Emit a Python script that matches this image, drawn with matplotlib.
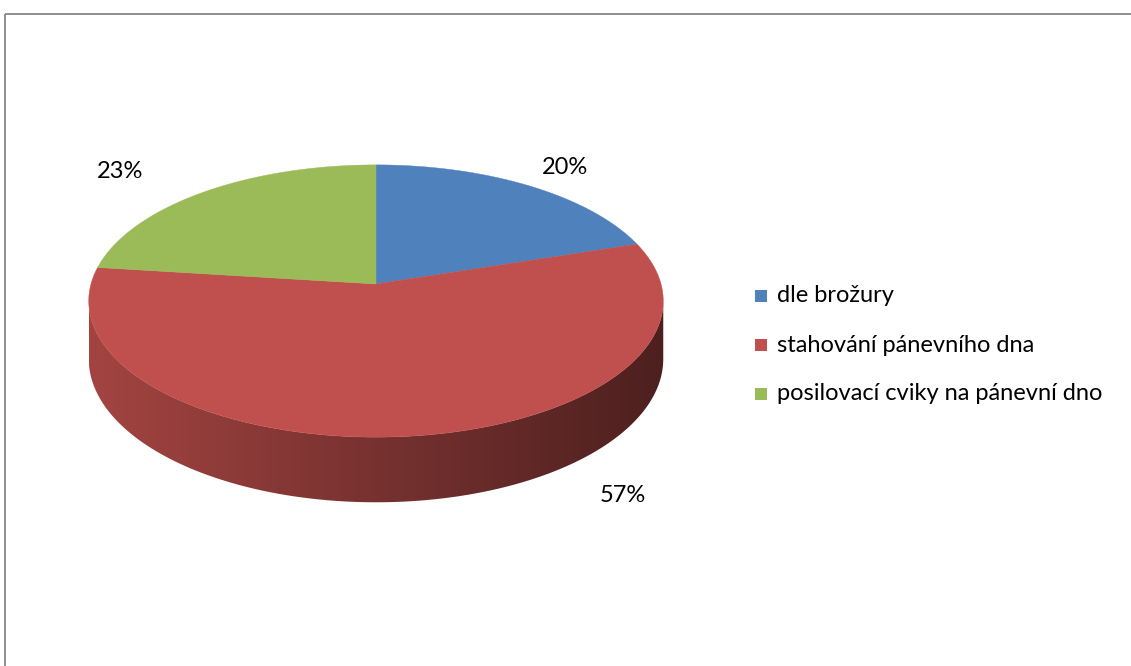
import matplotlib.pyplot as plt
import numpy as np
from matplotlib.patches import Polygon, Rectangle
from matplotlib.colors import LinearSegmentedColormap, to_rgb

kategorie = ["dle brožury", "stahování pánevního dna", "posilovací cviky na pánevní dno"]
podily = [20, 57, 23]
barvy = ["#4F81BD", "#C0504D", "#9BBB59"]

plt.rcParams["font.family"] = ["Lato", "DejaVu Sans"]

W, H = 1131, 666
fig = plt.figure(figsize=(W / 100, H / 100), dpi=100)
ax = fig.add_axes([0, 0, 1, 1])

# geometrie nakloneneho disku v pixelech
cx, cy = 376, 284
R, A = 285, 134     # vodorovny a svisly polomer
c = 0.125           # sila perspektivy
hloubka = 57        # vyska boku


def proj(t, dz=0.0):
    s = 1 + c * np.sin(t)
    return cx + R * np.cos(t) / s, cy - A * np.sin(t) / s + dz / s


# vysece zacinaji nahore a jdou po smeru hodinovych rucicek
frac = np.array(podily) / sum(podily)
hrany = np.pi / 2 - 2 * np.pi * np.concatenate([[0], np.cumsum(frac)])

# viditelna cast boku (predni strana)
t_a = -np.pi + np.arcsin(c)
t_b = -np.arcsin(c)

for i, barva in enumerate(barvy):
    hi, lo = hrany[i], hrany[i + 1]
    for k in (-1, 0, 1):
        t1 = max(lo + 2 * np.pi * k, t_a)
        t2 = min(hi + 2 * np.pi * k, t_b)
        if t2 <= t1:
            continue
        t = np.linspace(t1, t2, 200)
        xh, yh = proj(t)
        xd, yd = proj(t[::-1], hloubka)
        bok = Polygon(np.column_stack([np.r_[xh, xd], np.r_[yh, yd]]),
                      closed=True, facecolor="none", edgecolor="none")
        ax.add_patch(bok)
        rgb = np.array(to_rgb(barva))
        cmap = LinearSegmentedColormap.from_list(
            "bok", [rgb * 0.85, rgb * 0.62, rgb * 0.4])
        grad = np.linspace(0, 1, 256).reshape(1, -1)
        x0, x1 = proj(t_a)[0], proj(t_b)[0]
        img = ax.imshow(grad, cmap=cmap, aspect="auto",
                        extent=(x0, x1, max(yd) + 2, min(yh) - 2), zorder=1)
        img.set_clip_path(bok)

# horni plocha
for i, barva in enumerate(barvy):
    t = np.linspace(hrany[i], hrany[i + 1], 300)
    x, y = proj(t)
    ax.add_patch(Polygon(np.column_stack([np.r_[cx, x], np.r_[cy, y]]),
                         closed=True, facecolor=barva, edgecolor=barva,
                         linewidth=0.3, zorder=2))

# popisky hodnot
pozice_popisku = [(565, 167), (623, 496), (120, 172)]
for p, (px, py) in zip(podily, pozice_popisku):
    ax.text(px, py, f"{p}%", ha="center", va="center", fontsize=17, zorder=3)

# legenda
for j, (nazev, barva) in enumerate(zip(kategorie, barvy)):
    ly = 296 + 49 * j
    ax.add_patch(Rectangle((755, ly - 6), 12, 12, facecolor=barva,
                           edgecolor="none"))
    ax.text(777, ly, nazev, ha="left", va="center", fontsize=17)

# ramecek grafu
ax.add_patch(Rectangle((4.5, 13.5), 2000, 2000, facecolor="none",
                       edgecolor="#868686", linewidth=1.3, clip_on=False))

ax.set_xlim(0, W)
ax.set_ylim(H, 0)
ax.axis("off")

fig.savefig("out.png", dpi=100, facecolor="white")
